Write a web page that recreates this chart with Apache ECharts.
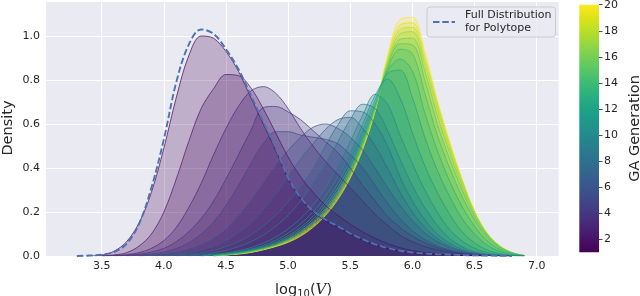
<!DOCTYPE html>
<html><head><meta charset="utf-8">
<script src="https://cdn.jsdelivr.net/npm/echarts@6/dist/echarts.min.js"></script>
<style>html,body{margin:0;padding:0;background:#fff}#c{width:640px;height:296px}</style>
</head><body><div id="c"></div>
<script>
// x grid: log10(V) from 3.3 to 6.9 in 0.1 steps
const xs = [3.3,3.4,3.5,3.6,3.7,3.8,3.9,4.0,4.1,4.2,4.3,4.4,4.5,4.6,4.7,4.8,4.9,5.0,5.1,5.2,5.3,5.4,5.5,5.6,5.7,5.8,5.9,6.0,6.1,6.2,6.3,6.4,6.5,6.6,6.7,6.8,6.9];
const fullDist = [0,0.002,0.006,0.018,0.055,0.145,0.31,0.53,0.79,0.96,1.03,1.01,0.94,0.85,0.73,0.61,0.49,0.355,0.265,0.205,0.165,0.135,0.102,0.076,0.053,0.036,0.024,0.016,0.011,0.008,0.006,0.004,0.003,0.002,0.001,0,null];
const gen01 = [null,0,0.004,0.022,0.065,0.15,0.29,0.49,0.72,0.91,1.0,0.99,0.93,0.84,0.72,0.6,0.48,0.35,0.26,0.2,0.16,0.13,0.097,0.072,0.05,0.034,0.022,0.014,0.009,0.006,0.004,0.002,0.001,0,null,null,null];
const gen02 = [null,null,0,0.005,0.015,0.045,0.10,0.20,0.35,0.52,0.67,0.76,0.825,0.82,0.765,0.67,0.56,0.45,0.36,0.29,0.23,0.185,0.145,0.11,0.08,0.057,0.038,0.025,0.016,0.01,0.006,0.003,0.001,0,null,null,null];
const gen03 = [null,null,0,0.002,0.006,0.015,0.035,0.07,0.13,0.22,0.33,0.46,0.58,0.68,0.75,0.77,0.74,0.67,0.58,0.5,0.43,0.37,0.31,0.25,0.19,0.14,0.095,0.065,0.043,0.028,0.017,0.01,0.005,0.002,0,null,null];
const gen04 = [null,null,null,0,0.003,0.008,0.018,0.035,0.065,0.11,0.17,0.25,0.35,0.46,0.57,0.675,0.68,0.655,0.62,0.57,0.52,0.47,0.40,0.32,0.25,0.18,0.13,0.09,0.06,0.038,0.023,0.013,0.006,0.003,0.001,0,null];
const gen05 = [null,null,null,null,0,0.004,0.009,0.018,0.034,0.06,0.1,0.155,0.23,0.32,0.42,0.51,0.565,0.565,0.55,0.54,0.53,0.51,0.46,0.4,0.32,0.24,0.17,0.115,0.075,0.046,0.027,0.015,0.007,0.003,0.001,0,null];
const gen06 = [null,null,null,null,null,0,0.004,0.009,0.017,0.03,0.05,0.08,0.12,0.18,0.25,0.33,0.41,0.48,0.54,0.585,0.6,0.58,0.54,0.48,0.4,0.31,0.23,0.16,0.105,0.065,0.038,0.02,0.01,0.004,0.001,0,null];
const gen07 = [null,null,null,null,null,null,0,0.004,0.008,0.015,0.027,0.045,0.07,0.105,0.15,0.21,0.28,0.36,0.44,0.51,0.575,0.62,0.63,0.58,0.5,0.4,0.29,0.2,0.13,0.08,0.045,0.024,0.011,0.005,0.002,0,null];
const gen08 = [null,null,null,null,null,null,null,0,0.004,0.008,0.015,0.026,0.042,0.065,0.095,0.135,0.185,0.245,0.315,0.395,0.5,0.595,0.66,0.655,0.6,0.5,0.36,0.25,0.165,0.1,0.058,0.03,0.014,0.006,0.002,0,null];
const gen09 = [null,null,null,null,null,null,null,null,0,0.004,0.008,0.015,0.026,0.042,0.065,0.095,0.135,0.185,0.25,0.33,0.42,0.52,0.62,0.69,0.67,0.57,0.44,0.32,0.22,0.14,0.08,0.042,0.02,0.008,0.003,0.001,0];
const gen10 = [null,null,null,null,null,null,null,null,null,0,0.004,0.008,0.014,0.024,0.038,0.058,0.086,0.123,0.17,0.23,0.31,0.41,0.52,0.64,0.735,0.69,0.55,0.42,0.3,0.2,0.12,0.068,0.035,0.016,0.006,0.002,0];
const gen11 = [null,null,null,null,null,null,null,null,null,null,0,0.006,0.011,0.019,0.031,0.048,0.072,0.104,0.146,0.2,0.27,0.36,0.47,0.6,0.73,0.805,0.72,0.56,0.41,0.29,0.19,0.11,0.06,0.028,0.011,0.003,0];
const gen12 = [null,null,null,null,null,null,null,null,null,null,0,0.005,0.009,0.016,0.027,0.042,0.063,0.092,0.13,0.18,0.245,0.33,0.44,0.57,0.71,0.83,0.845,0.72,0.54,0.39,0.27,0.17,0.1,0.05,0.021,0.007,0.001];
const gen13 = [null,null,null,null,null,null,null,null,null,null,null,0,0.008,0.014,0.024,0.038,0.057,0.084,0.12,0.167,0.23,0.31,0.415,0.545,0.69,0.84,0.895,0.84,0.65,0.48,0.34,0.225,0.135,0.07,0.03,0.01,0.001];
const gen14 = [null,null,null,null,null,null,null,null,null,null,null,0,0.007,0.013,0.022,0.035,0.053,0.078,0.112,0.157,0.218,0.297,0.4,0.53,0.68,0.85,0.94,0.92,0.74,0.55,0.4,0.27,0.165,0.088,0.038,0.013,0.002];
const gen15 = [null,null,null,null,null,null,null,null,null,null,null,0,0.007,0.012,0.021,0.033,0.05,0.074,0.107,0.151,0.21,0.288,0.39,0.52,0.675,0.86,0.965,0.96,0.8,0.6,0.44,0.3,0.18,0.095,0.042,0.014,0.002];
const gen16 = [null,null,null,null,null,null,null,null,null,null,null,0,0.006,0.011,0.02,0.032,0.048,0.071,0.103,0.146,0.204,0.28,0.38,0.51,0.67,0.87,0.985,0.99,0.84,0.64,0.47,0.32,0.19,0.1,0.045,0.015,0.002];
const gen17 = [null,null,null,null,null,null,null,null,null,null,null,0,0.006,0.011,0.019,0.031,0.046,0.068,0.099,0.141,0.198,0.273,0.372,0.5,0.665,0.88,1.01,1.02,0.87,0.67,0.49,0.335,0.197,0.102,0.046,0.016,0.002];
const gen18 = [null,null,null,null,null,null,null,null,null,null,null,0,0.005,0.01,0.018,0.03,0.045,0.066,0.096,0.137,0.193,0.267,0.365,0.495,0.66,0.89,1.03,1.04,0.89,0.69,0.505,0.342,0.2,0.103,0.046,0.016,0.002];
const gen19 = [null,null,null,null,null,null,null,null,null,null,null,0,0.005,0.01,0.017,0.029,0.044,0.064,0.093,0.133,0.188,0.262,0.36,0.49,0.66,0.9,1.05,1.06,0.91,0.7,0.513,0.346,0.203,0.104,0.047,0.016,0.002];
const gen20 = [null,null,null,null,null,null,null,null,null,null,null,0,0.005,0.009,0.016,0.028,0.043,0.062,0.09,0.13,0.184,0.257,0.355,0.485,0.66,0.91,1.075,1.085,0.93,0.71,0.52,0.35,0.205,0.105,0.047,0.016,0.002];
const generationCurves = [gen01,gen02,gen03,gen04,gen05,gen06,gen07,gen08,gen09,gen10,gen11,gen12,gen13,gen14,gen15,gen16,gen17,gen18,gen19,gen20];
const genMin = 1, genMax = 20;
const colorbarTicks = [2,4,6,8,10,12,14,16,18,20];

const viridisStops = ['#440154','#471365','#482475','#463480','#414487','#3b528b','#355f8d','#2f6c8e','#2a788e','#25848e','#21918c','#1e9c89','#22a884','#2fb47c','#44bf70','#5ec962','#7ad151','#9bd93c','#bddf26','#dfe318','#fde725'];
function hexRgb(h){return [parseInt(h.substr(1,2),16),parseInt(h.substr(3,2),16),parseInt(h.substr(5,2),16)];}
function viridis(t){
  const p = Math.max(0,Math.min(1,t))*(viridisStops.length-1);
  const i = Math.min(Math.floor(p), viridisStops.length-2), f = p - i;
  const a = hexRgb(viridisStops[i]), b = hexRgb(viridisStops[i+1]);
  return [0,1,2].map(k => Math.round(a[k]+(b[k]-a[k])*f));
}
const FONT = 'DejaVu Sans', TXT = '#262626';

const series = [];
for (let g = genMax; g >= genMin; g--) {
  const c = viridis((g-genMin)/(genMax-genMin));
  const vals = generationCurves[g-1];
  series.push({
    type:'line', name:'Gen '+g, smooth:0.35, symbol:'none', silent:true,
    data: xs.map((x,i)=>[x, vals[i]]),
    lineStyle:{color:`rgb(${c[0]},${c[1]},${c[2]})`, width:0.7},
    itemStyle:{color:`rgb(${c[0]},${c[1]},${c[2]})`},
    areaStyle:{color:`rgba(${c[0]},${c[1]},${c[2]},0.25)`, opacity:1}
  });
}
series.push({
  type:'line', name:'Full Distribution for Polytope', smooth:0.35, symbol:'none', silent:true,
  data: xs.map((x,i)=>[x, fullDist[i]]),
  lineStyle:{color:'#4c72b0', width:1.9, type:[6.5,2.8]},
  itemStyle:{color:'#4c72b0'}, z:5
});
// colorbar
series.push({type:'bar', xAxisIndex:1, yAxisIndex:1, stack:'cb', barWidth:'100%', silent:true,
  data:[genMin], itemStyle:{color:'rgba(0,0,0,0)'}});
series.push({type:'bar', xAxisIndex:1, yAxisIndex:1, stack:'cb', barWidth:'100%', silent:true,
  data:[genMax-genMin], itemStyle:{color:{type:'linear',x:0,y:0,x2:0,y2:1,
    colorStops: viridisStops.slice().reverse().map((c,i)=>({offset:i/(viridisStops.length-1), color:c}))}}});

const chart = echarts.init(document.getElementById('c'), null, {renderer:'canvas'});
chart.setOption({
  animation:false,
  textStyle:{fontFamily:FONT},
  grid:[
    {left:39.55, top:1.5, width:522, height:254.5, outerBoundsMode:'none', containLabel:false},
    {left:579.3, top:4.7, width:19.7, height:247.6, outerBoundsMode:'none', containLabel:false}
  ],
  graphic:[
    {type:'rect', z:-10, silent:true, shape:{x:46, y:1.5, width:512.7, height:254.5}, style:{fill:'#eaeaf2'}},
    {type:'text', silent:true, x:8, y:128, rotation:Math.PI/2,
     style:{text:'Density', fontFamily:FONT, fontSize:14.5, fill:TXT, align:'center', verticalAlign:'middle'}}
  ],
  legend:{data:['Full Distribution for Polytope'], left:427, top:7, itemWidth:22, itemHeight:10,
    padding:[2,4,2,5], backgroundColor:'rgba(234,234,242,0.8)', borderColor:'#cccccc', borderWidth:1, borderRadius:3,
    selectedMode:false, formatter:n=>n.replace(' for','\nfor'),
    itemStyle:{opacity:0, borderWidth:0},
    textStyle:{fontFamily:FONT, fontSize:11, color:TXT, lineHeight:13, padding:[0,0,0,5]}},
  xAxis:[
    {type:'value', gridIndex:0, min:3.0, max:7.2, interval:0.5,
     axisLine:{show:false}, axisTick:{show:false},
     splitLine:{show:true, lineStyle:{color:'#ffffff', width:1}},
     axisLabel:{fontFamily:FONT, fontSize:11, color:TXT, margin:5,
       formatter:v=> (v>3.4 && v<7.05) ? v.toFixed(1) : ''},
     name:'{r|log}{s|10}{r|(}{v|V}{r|)}', nameLocation:'middle', nameGap:26,
     nameTextStyle:{padding:[0,0,0,6], rich:{
       r:{fontFamily:FONT, fontSize:14.5, color:TXT},
       s:{fontFamily:FONT, fontSize:10, color:TXT, padding:[7,0,0,0]},
       v:{fontFamily:'DejaVu Serif', fontStyle:'italic', fontSize:15, color:TXT}}}},
    {type:'category', gridIndex:1, data:['cb'], show:false}
  ],
  yAxis:[
    {type:'value', gridIndex:0, min:0, max:1.157, interval:0.2, offset:-6.45,
     axisLine:{show:false}, axisTick:{show:false},
     splitLine:{show:true, lineStyle:{color:'#ffffff', width:1}},
     axisLabel:{fontFamily:FONT, fontSize:11, color:TXT, margin:6,
       formatter:v=> v<1.05 ? v.toFixed(1) : ''}},
    {type:'value', gridIndex:1, position:'right', min:genMin, max:genMax,
     axisLine:{show:false}, splitLine:{show:false},
     axisTick:{show:true, length:3.5, customValues:colorbarTicks, lineStyle:{color:TXT, width:0.8}},
     axisLabel:{fontFamily:FONT, fontSize:11, color:TXT, margin:5, customValues:colorbarTicks},
     name:'GA Generation', nameLocation:'middle', nameGap:29, nameRotate:90,
     nameTextStyle:{fontFamily:FONT, fontSize:14.5, color:TXT}}
  ],
  series
});
</script></body></html>
